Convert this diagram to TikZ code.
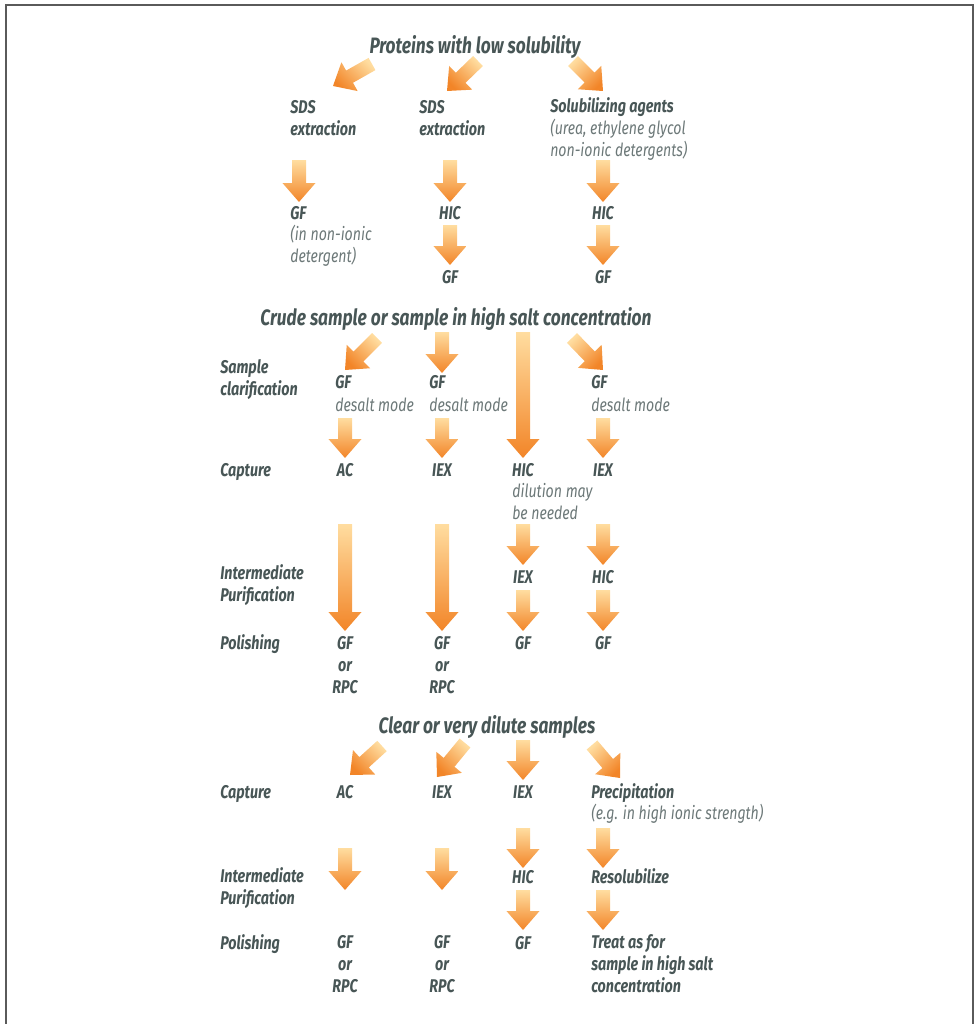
\documentclass[tikz,border=0pt]{standalone}
\usepackage{fontspec}
\setmainfont{Fira Sans}[FakeStretch=0.78]
\usetikzlibrary{calc}
\definecolor{txt}{RGB}{72,86,86}
\definecolor{desccol}{RGB}{108,120,120}
\definecolor{alight}{RGB}{255,221,160}
\definecolor{adark}{RGB}{242,133,40}
\definecolor{framecol}{RGB}{90,90,90}
\newcommand\barrow[3][0]{%
  \shade[ashade, shading angle=#1] let \p1=($(#3)!14.25pt!(#2)$) in
   ($(#2)!5.25pt!90:(#3)$) -- ($(\p1)!5.25pt!90:(#3)$) -- ($(\p1)!12.4pt!90:(#3)$) -- (#3)
   -- ($(\p1)!12.4pt!-90:(#3)$) -- ($(\p1)!5.25pt!-90:(#3)$) -- ($(#2)!5.25pt!-90:(#3)$) -- cycle;}
\begin{document}
\begin{tikzpicture}[x=0.75pt,y=-0.75pt,
  lab/.style={font=\fontsize{13.8}{16.2}\selectfont\bfseries\itshape, text=txt, inner sep=0, anchor=base west, align=left},
  labc/.style={lab, anchor=base, align=center},
  desc/.style={font=\fontsize{13.6}{16.2}\selectfont\itshape, text=desccol, inner sep=0, anchor=base west, align=left},
  ttl/.style={font=\fontsize{16.7}{18}\selectfont\bfseries\itshape, text=txt, inner sep=0, anchor=base},
  ashade/.style={top color=alight, bottom color=adark}]
\useasboundingbox (0,0) rectangle (975,1024);
\draw[framecol, line width=1.5pt] (6,1030) -- (6,5) -- (973,5) -- (973,1030);

% ---------- Section 1 (multi-line nodes are placed by the baseline of their last line)
\node[ttl] (t1) at (475,54) {Proteins with low solubility};
\node[lab] (sds1) at (290,135) {SDS\\extraction};
\node[lab] (sds2) at (419,135) {SDS\\extraction};
\node[lab] (sol) at (550,113) {Solubilizing agents};
\node[desc] (sold) at (550,156) {(urea, ethylene glycol\\non-ionic detergents)};
\node[lab] (gf1) at (290,219) {GF};
\node[desc] (gf1d) at (290,262) {(in non-ionic\\detergent)};
\node[labc] (hic2) at (450,219) {HIC};
\node[labc] (hic3) at (603,219) {HIC};
\node[labc] (gf2) at (450,283) {GF};
\node[labc] (gf3) at (603,283) {GF};

\coordinate (p1s) at (372,64);  \coordinate (p1e) at (333,86);
\coordinate (p2s) at (478,61);  \coordinate (p2e) at (447,91);
\coordinate (p3s) at (573,61);  \coordinate (p3e) at (603,91);
\coordinate (p4s) at (299,160); \coordinate (p4e) at (299,202);
\coordinate (p5s) at (450,160); \coordinate (p5e) at (450,202);
\coordinate (p6s) at (603,160); \coordinate (p6e) at (603,202);
\coordinate (p7s) at (450,225); \coordinate (p7e) at (450,265);
\coordinate (p8s) at (603,225); \coordinate (p8e) at (603,265);
\barrow[-45]{p1s}{p1e}
\barrow[-45]{p2s}{p2e}
\barrow[45]{p3s}{p3e}
\barrow{p4s}{p4e}
\barrow{p5s}{p5e}
\barrow{p6s}{p6e}
\barrow{p7s}{p7e}
\barrow{p8s}{p8e}

% ---------- Section 2
\node[ttl] (t2) at (456,325) {Crude sample or sample in high salt concentration};
\node[lab] (r1) at (220,395) {Sample\\clarification};
\node[lab] (g1) at (335,388) {GF};
\node[desc] (g1d) at (335,411) {desalt mode};
\node[lab] (g2) at (429,388) {GF};
\node[desc] (g2d) at (429,411) {desalt mode};
\node[lab] (g4) at (591,388) {GF};
\node[desc] (g4d) at (591,411) {desalt mode};
\node[lab] (r2) at (220,476) {Capture};
\node[labc] (c1) at (345,476) {AC};
\node[labc] (c2) at (442,476) {IEX};
\node[labc] (c3) at (523,476) {HIC};
\node[labc] (c4) at (603,476) {IEX};
\node[desc] (c3d) at (512,519) {dilution may\\be needed};
\node[lab] (r3) at (220,601) {Intermediate\\Purification};
\node[labc] (i3) at (523,583) {IEX};
\node[labc] (i4) at (603,583) {HIC};
\node[lab] (r4) at (220,649) {Polishing};
\node[labc] (q1) at (345,693) {GF\\or\\RPC};
\node[labc] (q2) at (442,693) {GF\\or\\RPC};
\node[labc] (q3) at (523,649) {GF};
\node[labc] (q4) at (603,649) {GF};

\coordinate (b1s) at (377,338); \coordinate (b1e) at (345,370);
\coordinate (b2s) at (442,332); \coordinate (b2e) at (442,373);
\coordinate (b3s) at (523,332); \coordinate (b3e) at (523,458);
\coordinate (b4s) at (572,338); \coordinate (b4e) at (603,370);
\coordinate (b5s) at (345,418); \coordinate (b5e) at (345,458);
\coordinate (b6s) at (442,418); \coordinate (b6e) at (442,458);
\coordinate (b7s) at (603,418); \coordinate (b7e) at (603,458);
\coordinate (b8s) at (345,524); \coordinate (b8e) at (345,631);
\coordinate (b9s) at (442,524); \coordinate (b9e) at (442,631);
\coordinate (b10s) at (523,524); \coordinate (b10e) at (523,565);
\coordinate (b11s) at (603,524); \coordinate (b11e) at (603,565);
\coordinate (b12s) at (523,590); \coordinate (b12e) at (523,631);
\coordinate (b13s) at (603,590); \coordinate (b13e) at (603,631);
\barrow[-45]{b1s}{b1e}
\barrow{b2s}{b2e}
\barrow{b3s}{b3e}
\barrow[45]{b4s}{b4e}
\barrow{b5s}{b5e}
\barrow{b6s}{b6e}
\barrow{b7s}{b7e}
\barrow{b8s}{b8e}
\barrow{b9s}{b9e}
\barrow{b10s}{b10e}
\barrow{b11s}{b11e}
\barrow{b12s}{b12e}
\barrow{b13s}{b13e}

% ---------- Section 3
\node[ttl] (t3) at (487,733) {Clear or very dilute samples};
\node[lab] (s1) at (220,798) {Capture};
\node[labc] (k1) at (345,798) {AC};
\node[labc] (k2) at (442,798) {IEX};
\node[labc] (k3) at (523,798) {IEX};
\node[lab] (k4) at (591,798) {Precipitation};
\node[desc] (k4d) at (591,819) {(e.g. in high ionic strength)};
\node[lab] (s2) at (220,904) {Intermediate\\Purification};
\node[labc] (m3) at (523,883) {HIC};
\node[lab] (m4) at (591,883) {Resolubilize};
\node[lab] (s3) at (220,949) {Polishing};
\node[labc] (n1) at (345,992) {GF\\or\\RPC};
\node[labc] (n2) at (442,992) {GF\\or\\RPC};
\node[labc] (n3) at (523,949) {GF};
\node[lab] (n4) at (591,992) {Treat as for\\sample in high salt\\concentration};

\coordinate (c1s) at (382,746); \coordinate (c1e) at (350,775);
\coordinate (c2s) at (465,743); \coordinate (c2e) at (437,777);
\coordinate (c3s) at (523,740); \coordinate (c3e) at (523,780);
\coordinate (c4s) at (592,745); \coordinate (c4e) at (620,778);
\coordinate (c5s) at (345,848); \coordinate (c5e) at (345,890);
\coordinate (c6s) at (442,848); \coordinate (c6e) at (442,890);
\coordinate (c7s) at (523,828); \coordinate (c7e) at (523,868);
\coordinate (c8s) at (603,828); \coordinate (c8e) at (603,868);
\coordinate (c9s) at (523,890); \coordinate (c9e) at (523,930);
\coordinate (c10s) at (603,890); \coordinate (c10e) at (603,930);
\barrow[-45]{c1s}{c1e}
\barrow[-45]{c2s}{c2e}
\barrow{c3s}{c3e}
\barrow[45]{c4s}{c4e}
\barrow{c5s}{c5e}
\barrow{c6s}{c6e}
\barrow{c7s}{c7e}
\barrow{c8s}{c8e}
\barrow{c9s}{c9e}
\barrow{c10s}{c10e}
\end{tikzpicture}
\end{document}
